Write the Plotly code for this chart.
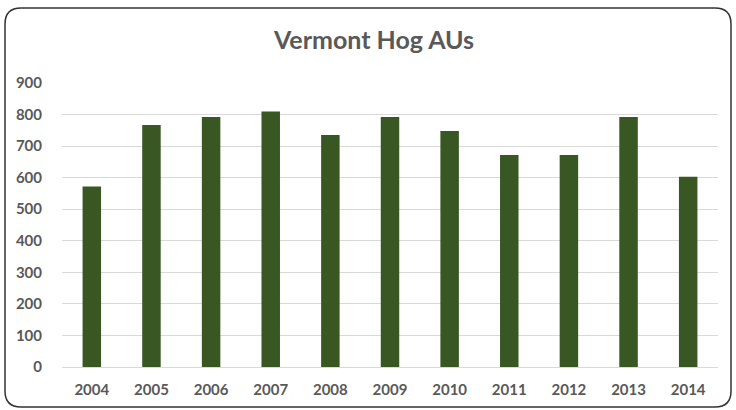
import plotly.graph_objects as go

years = ["2004", "2005", "2006", "2007", "2008", "2009", "2010", "2011", "2012", "2013", "2014"]
hog_aus = [572, 767, 792, 810, 735, 792, 748, 672, 672, 792, 603]
y_ticks = [0, 100, 200, 300, 400, 500, 600, 700, 800, 900]

W, H = 736, 410
ML, MR, MT, MB = 62, 18, 83, 43
pw, ph = W - ML - MR, H - MT - MB

def px(x):
    return (x - ML) / pw

def py(y):
    return (H - MB - y) / ph

# rounded border path (paper coords)
x0, x1, y0, y1, r = 5, 731, 8, 407, 16
rx, ry = r / pw, r / ph
X0, X1, Y0, Y1 = px(x0), px(x1), py(y0), py(y1)
path = (f"M {X0+rx},{Y0} L {X1-rx},{Y0} Q {X1},{Y0} {X1},{Y0-ry} "
        f"L {X1},{Y1+ry} Q {X1},{Y1} {X1-rx},{Y1} "
        f"L {X0+rx},{Y1} Q {X0},{Y1} {X0},{Y1+ry} "
        f"L {X0},{Y0-ry} Q {X0},{Y0} {X0+rx},{Y0} Z")

fnt = "Lato, sans-serif"

fig = go.Figure(go.Bar(x=years, y=hog_aus, marker=dict(color="#385723", line=dict(width=0)), width=0.31))

fig.update_layout(
    width=W, height=H,
    margin=dict(l=ML, r=MR, t=MT, b=MB),
    paper_bgcolor="white", plot_bgcolor="white",
    title=dict(text="<b>Vermont Hog AUs</b>", x=(374 - ML) / pw, xref="paper", xanchor="center",
               y=1 - 40 / H, yanchor="middle",
               font=dict(family=fnt, size=25, color="#595959")),
    showlegend=False,
    shapes=[dict(type="path", xref="paper", yref="paper", path=path,
                 line=dict(color="#333333", width=1.5), fillcolor="rgba(0,0,0,0)", layer="below")],
)
tf = dict(family=fnt, size=15, color="#595959", weight="bold")
fig.update_xaxes(showgrid=False, showline=False, ticks="", tickfont=tf, ticklabelstandoff=12)
fig.update_yaxes(range=[0, 900], tickvals=y_ticks, showgrid=True, gridcolor="#d9d9d9", gridwidth=1,
                 zeroline=True, zerolinecolor="#d9d9d9", zerolinewidth=1, showline=False, ticks="",
                 tickfont=tf, ticklabelstandoff=19)

fig.write_html("out.html")
